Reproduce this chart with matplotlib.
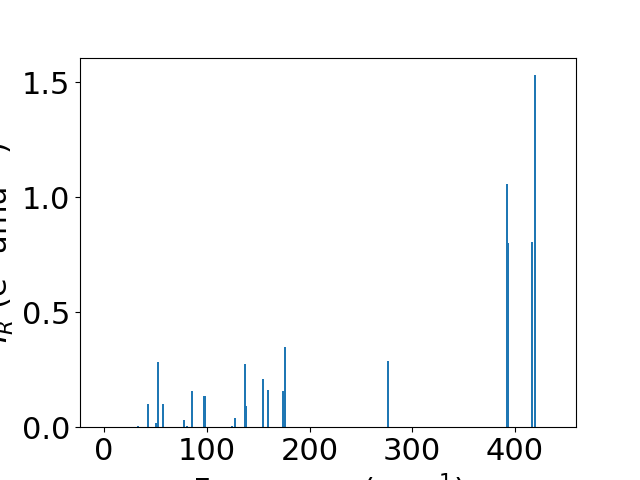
import matplotlib.pyplot as plt
import numpy as np

# vibrational modes: frequency (cm^-1) and intensity
freq = [33, 42.8, 50.6, 52.6, 57.4, 77.9, 80.8, 85.7, 97.2, 98.4,
        124.6, 127.6, 137.3, 138.5, 154.8, 159.7, 174.3, 176.2,
        276.5, 392.4, 393.7, 416.7, 419.6]
intensity = [0.007, 0.10, 0.02, 0.283, 0.10, 0.03, 0.005, 0.157, 0.135, 0.135,
             0.005, 0.04, 0.274, 0.09, 0.209, 0.16, 0.157, 0.348,
             0.287, 1.057, 0.80, 0.804, 1.53]

plt.rcParams['font.size'] = 22

fig, ax = plt.subplots(figsize=(6.4, 4.8), dpi=100)
ax.bar(freq, intensity, width=1.6)
ax.set_xlim(-23.5, 459.5)
ax.set_xlabel('Frequency (cm$^{-1}$)')
ax.set_ylabel('$I_R$ (e$^2$ amu$^{-1}$)')

plt.savefig('out.png')
